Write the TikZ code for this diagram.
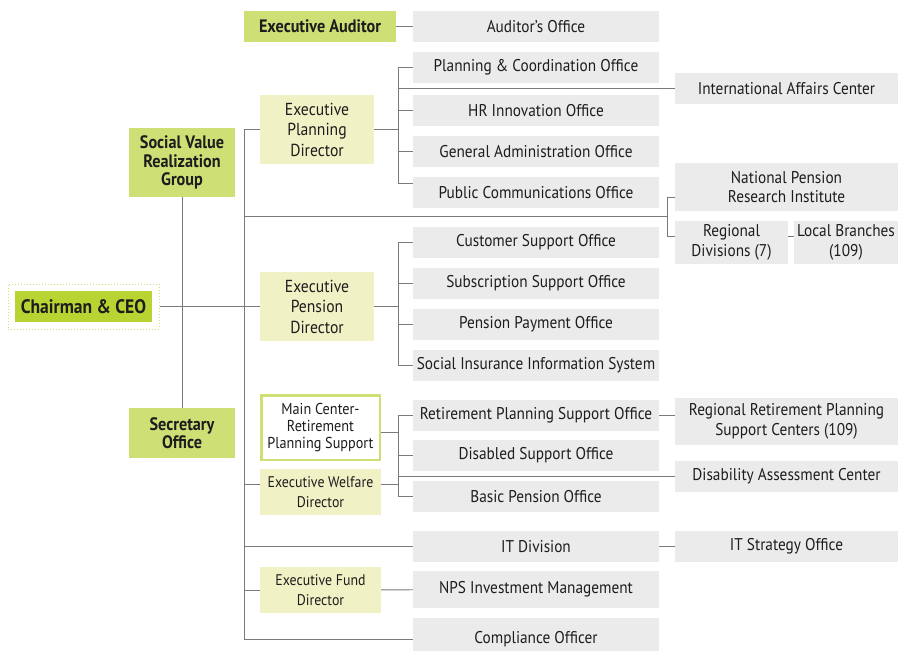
\documentclass[tikz,border=0pt]{standalone}
\usepackage{fontspec}
\setmainfont{PT Sans}[FakeStretch=0.9]
\definecolor{boxgray}{HTML}{EBEBEB}
\definecolor{leafgreen}{HTML}{CDDF75}
\definecolor{ceogreen}{HTML}{B8D432}
\definecolor{paleyellow}{HTML}{F0F2C6}
\definecolor{linegray}{HTML}{7A7A7A}
\definecolor{inkgray}{HTML}{1E1C1D}
\begin{document}
\begin{tikzpicture}[x=1pt,y=-1pt,
	every node/.style={inner sep=0pt,align=center,text=inkgray},
	office/.style={fill=boxgray,minimum width=246pt,minimum height=31pt,font=\fontsize{17}{19}\selectfont},
	unit/.style={fill=boxgray,minimum width=223pt,minimum height=31pt,font=\fontsize{17}{19.5}\selectfont},
	head/.style={fill=leafgreen,font=\fontsize{18}{18.5}\selectfont\bfseries},
	director/.style={fill=paleyellow,font=\fontsize{17.4}{20.5}\selectfont},
	smalldir/.style={fill=paleyellow,minimum width=121pt,minimum height=46pt,font=\fontsize{15.4}{19.5}\selectfont},
	link/.style={draw=linegray,line width=0.9pt}]
	\useasboundingbox (0,0) rectangle (898,651);
	\node[head,minimum width=152pt,minimum height=31pt] (exaud) at (320,26.5) {Executive Auditor};
	\node[head,minimum width=106pt,minimum height=69pt] (svrg) at (182,162.5) {Social Value\\Realization\\Group};
	\node[head,minimum width=106pt,minimum height=50pt] (secr) at (182,433) {Secretary\\Office};
	\node[draw=leafgreen,dotted,line width=1pt,minimum width=151pt,minimum height=45pt] (ceoframe) at (83.5,306.5) {};
	\node[head,fill=ceogreen,font=\fontsize{19.5}{20}\selectfont\bfseries,minimum width=137pt,minimum height=31pt] (ceo) at (83.5,306.5) {Chairman \& CEO};
	\node[director,minimum width=114pt,minimum height=69pt] (epd) at (317,129.5) {Executive\\Planning\\Director};
	\node[director,minimum width=114pt,minimum height=69pt] (epen) at (317,306.5) {Executive\\Pension\\Director};
	\node[draw=leafgreen,line width=2.5pt,fill=white,minimum width=118.5pt,minimum height=64.5pt,font=\fontsize{15.8}{17}\selectfont] (mcrp) at (320.5,427.5) {Main Center-\\Retirement\\Planning Support};
	\node[smalldir] (ewd) at (320.5,492) {Executive Welfare\\Director};
	\node[smalldir] (efd) at (320.5,590) {Executive Fund\\Director};
	\node[office] (auditor) at (536,26.5) {Auditor's Office};
	\node[office] (plan) at (536,67.5) {Planning \& Coordination Office};
	\node[office] (hr) at (536,110.5) {HR Innovation Office};
	\node[office] (genadm) at (536,151.5) {General Administration Office};
	\node[office] (pubcom) at (536,192.5) {Public Communications Office};
	\node[office] (custsup) at (536,242.5) {Customer Support Office};
	\node[office] (subsup) at (536,283.5) {Subscription Support Office};
	\node[office] (penpay) at (536,324.5) {Pension Payment Office};
	\node[office] (socins) at (536,365.5) {Social Insurance Information System};
	\node[office] (retsup) at (536,415.5) {Retirement Planning Support Office};
	\node[office] (disab) at (536,455.5) {Disabled Support Office};
	\node[office] (basic) at (536,496.5) {Basic Pension Office};
	\node[office] (itdiv) at (536,546.5) {IT Division};
	\node[office,minimum height=37pt] (nps) at (536,589.5) {NPS Investment Management};
	\node[office,minimum height=42pt] (compl) at (536,639) {Compliance Officer};
	\node[unit] (intl) at (786.5,88.5) {International Affairs Center};
	\node[unit,minimum height=48pt] (npri) at (786.5,187) {National Pension\\Research Institute};
	\node[unit,minimum width=113pt,minimum height=43pt] (regdiv) at (731.5,242.5) {Regional\\Divisions (7)};
	\node[unit,minimum width=104pt,minimum height=43pt] (locbr) at (846,242.5) {Local Branches\\(109)};
	\node[unit,minimum height=47pt] (rrpsc) at (786.5,421.5) {Regional Retirement Planning\\Support Centers (109)};
	\node[unit] (dac) at (786.5,476.5) {Disability Assessment Center};
	\node[unit] (itstr) at (786.5,546.5) {IT Strategy Office};
	\coordinate (ttop) at (244.5,129.5);
	\coordinate (tbot) at (244.5,639);
	\coordinate (pbus) at (398,67.5);
	\coordinate (rbus) at (668,216.5);
	\draw[link] (exaud) -- (auditor);
	\draw[link] (svrg) -- (secr);
	\draw[link] (ceoframe) -- (epen);
	\draw[link] (epd.west) -- (ttop) -- (tbot) -- (compl.west);
	\draw[link] (ttop |- rbus) -- (rbus);
	\draw[link] ([yshift=-10pt]npri.west) -- ++(-7,0) |- ([yshift=6.5pt]regdiv.west);
	\draw[link] ([yshift=6.5pt]regdiv.east) -- ([yshift=6.5pt]locbr.west);
	\draw[link] (epd) -- (epd -| pbus);
	\draw[link] (pbus) -- (pbus |- 0,183) -- (pubcom.west |- 0,183);
	\foreach \n in {plan,hr,genadm,intl}
		\draw[link] (\n.west) -- (\n.west -| pbus);
	\draw[link] (epen) -- (epen -| pbus);
	\draw[link] (custsup.west -| pbus) -- (socins.west -| pbus);
	\foreach \n in {custsup,subsup,penpay,socins}
		\draw[link] (\n.west) -- (\n.west -| pbus);
	\draw[link] ([yshift=-4.5pt]mcrp.east) -- ([yshift=-4.5pt]mcrp.east -| pbus);
	\draw[link] ([yshift=8pt]ewd.west -| ttop) -- ([yshift=8pt]ewd.west);
	\draw[link] ([yshift=8pt]ewd.east) -- ([yshift=8pt]ewd.east -| pbus);
	\draw[link] (retsup.west -| pbus) -- (basic.west -| pbus);
	\foreach \n in {retsup,disab,basic,dac}
		\draw[link] (\n.west) -- (\n.west -| pbus);
	\draw[link] (retsup.east) -- (retsup.east -| rrpsc.west);
	\draw[link] (itdiv.west -| ttop) -- (itdiv.west);
	\draw[link] (itdiv) -- (itstr);
	\draw[link] (efd.west -| ttop) -- (efd.west);
	\draw[link] (efd) -- (nps);
\end{tikzpicture}
\end{document}
